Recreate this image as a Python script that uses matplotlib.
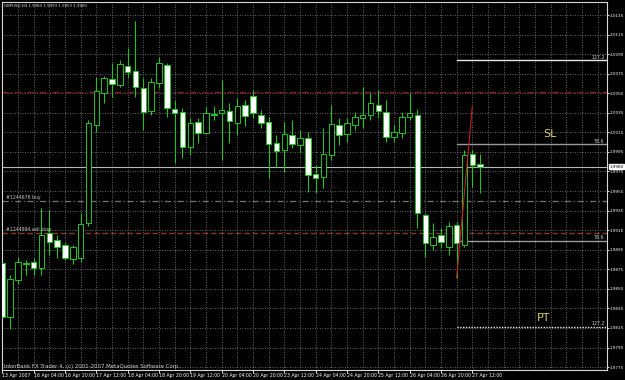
import matplotlib
matplotlib.use("Agg")
import matplotlib.pyplot as plt
from matplotlib.patches import Rectangle
from matplotlib import font_manager

# ---------------- data (oldest -> newest), GBPUSD H4 ----------------
opens = [1.9881, 1.9826, 1.9864, 1.9881, 1.9882, 1.9876, 1.9912, 1.9905, 1.9900, 1.9885,
         1.9887, 1.9922, 2.0023, 2.0055, 2.0070, 2.0063, 2.0083, 2.0078, 2.0060, 2.0037,
         2.0065, 2.0084, 2.0039, 2.0036, 2.0000, 2.0026, 2.0014, 2.0034, 2.0035, 2.0037,
         2.0025, 2.0043, 2.0052, 2.0033, 2.0026, 2.0004, 1.9997, 2.0012, 2.0002, 2.0009,
         1.9972, 1.9969, 1.9992, 2.0023, 2.0013, 2.0023, 2.0030, 2.0033, 2.0043, 2.0036,
         2.0010, 2.0014, 2.0031, 2.0033, 1.9931, 1.9900, 1.9910, 1.9898, 1.9920, 1.9900,
         1.9993, 1.9983]
highs = [1.9887, 1.9869, 1.9888, 1.9884, 1.9887, 1.9938, 1.9936, 1.9910, 1.9902, 1.9900,
         1.9933, 2.0028, 2.0072, 2.0073, 2.0086, 2.0089, 2.0101, 2.0129, 2.0071, 2.0071,
         2.0092, 2.0086, 2.0048, 2.0040, 2.0030, 2.0030, 2.0041, 2.0042, 2.0069, 2.0045,
         2.0050, 2.0048, 2.0058, 2.0038, 2.0031, 2.0012, 2.0026, 2.0028, 2.0017, 2.0015,
         1.9982, 2.0019, 2.0043, 2.0030, 2.0030, 2.0036, 2.0061, 2.0055, 2.0058, 2.0048,
         2.0023, 2.0036, 2.0055, 2.0039, 1.9933, 1.9922, 1.9917, 1.9923, 1.9923, 1.9997,
         1.9997, 1.9993]
lows = [1.9823, 1.9814, 1.9860, 1.9869, 1.9869, 1.9869, 1.9890, 1.9887, 1.9884, 1.9880,
        1.9882, 1.9919, 2.0015, 2.0045, 2.0051, 2.0061, 2.0071, 2.0051, 2.0017, 2.0033,
        2.0060, 2.0031, 1.9984, 1.9989, 1.9992, 2.0004, 2.0013, 2.0028, 1.9987, 2.0004,
        2.0012, 2.0021, 2.0030, 2.0019, 1.9968, 1.9980, 1.9974, 1.9999, 1.9994, 1.9954,
        1.9953, 1.9958, 1.9987, 2.0002, 2.0005, 2.0017, 2.0019, 2.0028, 2.0030, 2.0005,
        2.0005, 2.0009, 2.0028, 1.9917, 1.9888, 1.9895, 1.9897, 1.9890, 1.9866, 1.9898,
        1.9959, 1.9953]
closes = [1.9826, 1.9865, 1.9882, 1.9880, 1.9876, 1.9910, 1.9903, 1.9898, 1.9887, 1.9898,
          1.9921, 2.0025, 2.0057, 2.0071, 2.0064, 2.0085, 2.0077, 2.0061, 2.0036, 2.0066,
          2.0086, 2.0040, 2.0035, 2.0000, 2.0025, 2.0014, 2.0035, 2.0033, 2.0038, 2.0027,
          2.0042, 2.0032, 2.0035, 2.0025, 2.0003, 1.9996, 2.0013, 2.0003, 2.0009, 1.9971,
          1.9968, 1.9993, 2.0024, 2.0012, 2.0025, 2.0031, 2.0033, 2.0045, 2.0037, 2.0010,
          2.0015, 2.0031, 2.0035, 1.9933, 1.9902, 1.9908, 1.9903, 1.9919, 1.9902, 1.9992,
          1.9982, 1.9980]

date_labels = ["13 Apr 2007", "16 Apr 04:00", "16 Apr 20:00", "17 Apr 12:00",
               "18 Apr 04:00", "18 Apr 20:00", "19 Apr 12:00", "20 Apr 04:00",
               "20 Apr 20:00", "23 Apr 12:00", "24 Apr 04:00", "24 Apr 20:00",
               "25 Apr 12:00", "26 Apr 04:00", "26 Apr 20:00", "27 Apr 12:00"]
price_ticks = [2.0135, 2.0115, 2.0095, 2.0075, 2.0055, 2.0035, 2.0015, 1.9995, 1.9975,
               1.9955, 1.9935, 1.9915, 1.9895, 1.9875, 1.9855, 1.9835, 1.9815, 1.9795,
               1.9775]

current_price = 1.9980
sl_order_level = 2.0056
buy_order_level = 1.9945
sell_stop_level = 1.9912
fib_levels = [2.0089, 2.0003, 1.9904, 1.9816]
fib_labels = ["127.2", "78.6", "78.6", "127.2"]
fib_anchor_x = [58, 60]
fib_anchor_y = [1.9866, 2.0041]
header = "GBPUSD,H4 1.9983 1.9993 1.9953 1.9980"

# ---------------- fonts ----------------
avail = {f.name for f in font_manager.fontManager.ttflist}
HAS_NARROW = "Liberation Sans Narrow" in avail
NARROW = ["Liberation Sans Narrow", "DejaVu Sans"] if HAS_NARROW else ["DejaVu Sans"]
SMALL = 4.6 if HAS_NARROW else 3.3
AXIS = 4.1 if HAS_NARROW else 3.0
HEAD = 3.9 if HAS_NARROW else 2.8

# ---------------- drawing ----------------
GREEN = "#22c322"
fig = plt.figure(figsize=(6.25, 3.8), dpi=100, facecolor="black")
ax = fig.add_axes([2 / 625, 10 / 380, 605 / 625, 368 / 380])
ax.set_facecolor("black")

n = len(opens)
x_max = 77.2
ax.set_xlim(-0.04, x_max)
ax.set_ylim(1.97720, 2.01483)

# grid
for p in price_ticks:
    ax.axhline(p, color="#8a8a8a", lw=0.6, ls=(0, (1, 2)), zorder=0)
for i in range(0, int(x_max) + 1, 2):
    ax.axvline(i, color="#8a8a8a", lw=0.6, ls=(0, (1, 2)), zorder=0)

# horizontal order lines
ax.axhline(sl_order_level, color="#8c1c1c", lw=0.9, ls=(0, (5, 2, 1, 2)), zorder=1)
ax.axhline(current_price, color="#b8b8b8", lw=0.8, zorder=1)
ax.axhline(buy_order_level, color="#6a7a6a", lw=0.9, ls=(0, (5, 2, 1, 2)), zorder=1)
ax.axhline(sell_stop_level, color="#8a3a1c", lw=1.0, ls=(0, (4, 2)), zorder=1)
ax.text(0.5, buy_order_level + 0.0001, "#1244676 buy", color="#c8c8c8",
        fontsize=SMALL, family=NARROW, va="bottom", ha="left")
ax.text(0.5, sell_stop_level + 0.0001, "#1244894 sell stop", color="#c8c8c8",
        fontsize=SMALL, family=NARROW, va="bottom", ha="left")

# candles
w = 0.7
for i in range(n):
    o, h, l, c = opens[i], highs[i], lows[i], closes[i]
    ax.plot([i, i], [l, h], color=GREEN, lw=0.8, zorder=2, solid_capstyle="butt")
    bottom = min(o, c)
    height = abs(c - o)
    face = "black" if c > o else "white"
    if height < 0.00005:
        ax.plot([i - w / 2, i + w / 2], [o, o], color=GREEN, lw=0.9, zorder=3)
    else:
        ax.add_patch(Rectangle((i - w / 2, bottom), w, height, facecolor=face,
                               edgecolor=GREEN, lw=0.7, zorder=3))

# fibonacci objects
ax.plot(fib_anchor_x, fib_anchor_y, color="#c02020", lw=0.8, zorder=4)
fib_styles = [("#e8e8e8", "-"), ("#9a9a9a", "-"), ("#9a9a9a", "-"), ("#e8e8e8", (0, (1, 1)))]
for lvl, lab, (col, ls) in zip(fib_levels, fib_labels, fib_styles):
    ax.plot([fib_anchor_x[0], x_max], [lvl, lvl], color=col, lw=1.0, ls=ls, zorder=2)
    ax.text(x_max - 0.3, lvl + 0.00005, lab, color="#d0d0d0", fontsize=SMALL,
            family=NARROW, ha="right", va="bottom")

ax.text(69.1, 2.00133, "SL", color="#d9cc66", fontsize=8, ha="left", va="center")
ax.text(68.3, 1.98252, "PT", color="#d9cc66", fontsize=8, ha="left", va="center")

# header / footer texts
ax.text(0.004, 0.994, header, transform=ax.transAxes, color="#e0e0e0",
        fontsize=HEAD, family=NARROW, ha="left", va="top")
ax.text(0.004, 0.004, "InterBank FX Trader 4, (c) 2001-2007 MetaQuotes Software Corp.",
        transform=ax.transAxes, color="#d0d0d0", fontsize=SMALL + 0.6, family=NARROW,
        ha="left", va="bottom")

# axes
for s in ax.spines.values():
    s.set_color("#d8d8d8")
    s.set_linewidth(0.8)
ax.yaxis.tick_right()
ax.set_yticks(price_ticks)
ax.set_yticklabels([f"{p:.4f}" for p in price_ticks], family=NARROW)
ax.tick_params(axis="y", colors="white", labelsize=AXIS, length=1.5, width=0.6, pad=0.6)
ax.set_xticks(list(range(0, 4 * len(date_labels), 4)))
ax.set_xticklabels(date_labels, ha="left", family=NARROW)
ax.tick_params(axis="x", colors="white", labelsize=SMALL, length=2, width=0.6, pad=0.5)

ax.annotate(f"{current_price:.4f}", xy=(1.0, current_price),
            xycoords=("axes fraction", "data"), xytext=(2.0, 0), textcoords="offset points",
            fontsize=AXIS, family=NARROW, color="black", va="center", ha="left",
            bbox=dict(boxstyle="square,pad=0.1", fc="white", ec="white"))

fig.savefig("out.png", dpi=100, facecolor="black")
